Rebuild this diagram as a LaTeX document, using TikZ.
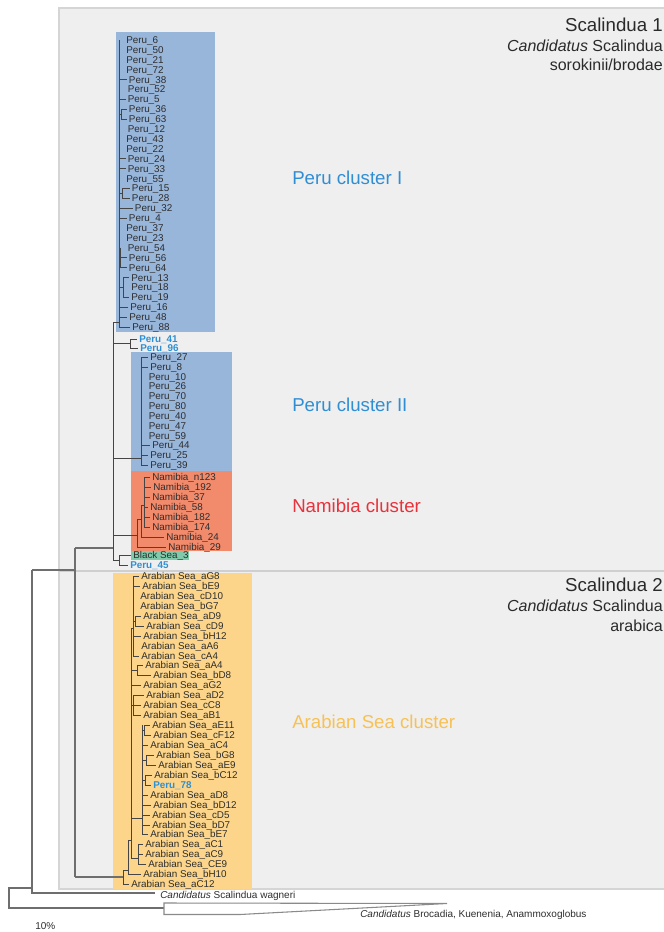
\documentclass[tikz,border=0pt]{standalone}
\usepackage{fontspec}
\setmainfont{Liberation Sans}
\definecolor{leafc}{HTML}{2E2E2E}
\definecolor{treec}{HTML}{454545}
\definecolor{backc}{HTML}{6E6E6E}
\definecolor{bggray}{HTML}{EFEFEF}
\definecolor{bgline}{HTML}{D5D5D5}
\definecolor{sepc}{HTML}{CFCFCF}
\definecolor{peruf}{HTML}{98B5DA}
\definecolor{namf}{HTML}{F28A6C}
\definecolor{bsf}{HTML}{7FCAAA}
\definecolor{arf}{HTML}{FCD58A}
\definecolor{perut}{HTML}{2F8ED3}
\definecolor{peruc}{HTML}{2E8FD3}
\definecolor{namt}{HTML}{E8323C}
\definecolor{art}{HTML}{F7C155}
\definecolor{grpc}{HTML}{2A2A2A}
\definecolor{wedgec}{HTML}{8A8A8A}
\newcommand\lf[5][leaf]{\node[#1] (#2) at (#3,#4) {#5};}
\newcommand\lft[6][leaf]{\node[#1] (#2) at (#3,#4) {#5};\draw[br] (#6,#4) -- ([xshift=-1.2pt]#2.west);}
\begin{document}
\begin{tikzpicture}[x=0.75pt,y=-0.75pt,
  leaf/.style={anchor=west,inner sep=0pt,text height=5.2pt,text depth=0pt,font=\fontsize{7.4}{8}\selectfont,text=leafc},
  bleaf/.style={leaf,text=peruc,font=\fontsize{7.4}{8}\selectfont\bfseries},
  br/.style={draw=treec,line width=0.7pt},
  bb/.style={draw=backc,line width=1pt},
  clab/.style={anchor=west,inner sep=0pt,font=\fontsize{14}{16}\selectfont},
  grp/.style={anchor=east,inner sep=0pt,font=\fontsize{14}{16}\selectfont,text=grpc},
  grps/.style={anchor=east,inner sep=0pt,font=\fontsize{12}{14}\selectfont,text=grpc},
  olab/.style={anchor=west,inner sep=0pt,font=\fontsize{7.5}{9}\selectfont,text=leafc}]
\useasboundingbox (0,0) rectangle (664,932);
\clip (0,0) rectangle (664,932);
\fill[white] (0,0) rectangle (664,932);
% background panels
\draw[fill=bggray,draw=bgline,line width=1.2pt] (59,8) rectangle (700,889);
\draw[sepc,line width=2.2pt] (59,571) -- (700,571);
% cluster boxes
\fill[peruf] (116,32) rectangle (215,332);
\fill[peruf] (131,352) rectangle (232,471);
\fill[namf] (131,471) rectangle (232,551);
\fill[bsf] (131,551) rectangle (189,559.5);
\fill[arf] (113,572.5) rectangle (252,889);
% panel labels
\node[grp] (s1) at (663,25) {Scalindua 1};
\node[grps] (s1a) at (663,46) {\textit{Candidatus} Scalindua};
\node[grps] (s1b) at (663,65) {sorokinii/brodae};
\node[grp] (s2) at (663,585) {Scalindua 2};
\node[grps] (s2a) at (663,606) {\textit{Candidatus} Scalindua};
\node[grps] (s2b) at (663,626) {arabica};
% cluster labels
\node[clab,text=perut] (gI) at (292,178) {Peru cluster I};
\node[clab,text=perut] (gII) at (292,405) {Peru cluster II};
\node[clab,text=namt] (gN) at (292,506) {Namibia cluster};
\node[clab,text=art] (gA) at (292,722) {Arabian Sea cluster};
% backbone
\draw[bb] (75,548) -- (75,877);
\draw[bb] (75,548) -- (113,548);
\draw[bb] (75,877) -- (123,877);
\draw[bb] (32,570) -- (75,570);
\draw[bb] (32,570) -- (32,893) -- (155,893);
\draw[bb] (32,888) -- (9,888) -- (9,908) -- (164,908);
\draw[draw=wedgec,line width=0.8pt] (164,903) -- (447,903.5) -- (240,914.5) -- (164,914.5) -- cycle;
\node[olab] (wag) at (160,896) {\textit{Candidatus} Scalindua wagneri};
\node[olab] (bro) at (360,915) {\textit{Candidatus} Brocadia, Kuenenia, Anammoxoglobus};
\node[olab] (ten) at (35,926) {10\%};
% Scalindua 1 node
\draw[br] (113,322) -- (113,560);
% Peru cluster I
\draw[br] (113,322) -- (119,322);
\draw[br] (119,40) -- (119,327.1);
\draw[br] (121,109.3) -- (121,119.2); \draw[br] (119,114.2) -- (121,114.2);
\draw[br] (122,188.5) -- (122,198.4); \draw[br] (119,193.5) -- (122,193.5);
\draw[br] (120.5,247.9) -- (120.5,267.7);
\draw[br] (123,277.6) -- (123,297.4); \draw[br] (119,287.5) -- (123,287.5);
\lf{p6}{126}{40}{Peru\_6}
\lf{p50}{126}{49.9}{Peru\_50}
\lf{p21}{126}{59.8}{Peru\_21}
\lf{p72}{126}{69.7}{Peru\_72}
\lft{p38}{128.7}{79.6}{Peru\_38}{119}
\lf{p52}{127.7}{89.5}{Peru\_52}
\lft{p5}{127.5}{99.4}{Peru\_5}{119}
\lft{p36}{128.7}{109.3}{Peru\_36}{121}
\lft{p63}{128.7}{119.2}{Peru\_63}{121}
\lf{p12}{127.5}{129.1}{Peru\_12}
\lf{p43}{126}{139}{Peru\_43}
\lf{p22}{126}{148.9}{Peru\_22}
\lft{p24}{127.5}{158.8}{Peru\_24}{119}
\lft{p33}{127.5}{168.7}{Peru\_33}{119}
\lf{p55}{126}{178.6}{Peru\_55}
\lft{p15}{131.7}{188.5}{Peru\_15}{122}
\lft{p28}{131.7}{198.4}{Peru\_28}{122}
\lft{p32}{134.7}{208.3}{Peru\_32}{119}
\lft{p4}{128.7}{218.2}{Peru\_4}{119}
\lf{p37}{126}{228.1}{Peru\_37}
\lf{p23}{126}{238}{Peru\_23}
\lf{p54}{127.5}{247.9}{Peru\_54}
\lft{p56}{128.7}{257.8}{Peru\_56}{120.5}
\lft{p64}{128.7}{267.7}{Peru\_64}{120.5}
\lft{p13}{131}{277.6}{Peru\_13}{123}
\lf{p18}{131}{287.5}{Peru\_18}
\lft{p19}{131}{297.4}{Peru\_19}{123}
\lft{p16}{130}{307.3}{Peru\_16}{119}
\lft{p48}{129}{317.2}{Peru\_48}{119}
\lft{p88}{132}{327.1}{Peru\_88}{119}
% Peru 41/96
\draw[br] (113,343.5) -- (130,343.5);
\draw[br] (130,339) -- (130,348);
\lft[bleaf]{p41}{139}{339}{Peru\_41}{130}
\lft[bleaf]{p96}{140}{348}{Peru\_96}{130}
% Peru cluster II
\draw[br] (141,357) -- (141,465);
\draw[br] (113,458) -- (141,458);
\lft{q27}{150}{357}{Peru\_27}{141}
\lft{q8}{150}{367}{Peru\_8}{141}
\lf{q10}{148.5}{377}{Peru\_10}
\lf{q26}{148.5}{386}{Peru\_26}
\lf{q70}{148.5}{396}{Peru\_70}
\lf{q80}{148.5}{406}{Peru\_80}
\lf{q40}{148.5}{416}{Peru\_40}
\lf{q47}{148.5}{426}{Peru\_47}
\lf{q59}{148.5}{436}{Peru\_59}
\lft{q44}{152}{445}{Peru\_44}{141}
\lft{q25}{150}{455}{Peru\_25}{141}
\lft{q39}{150}{465}{Peru\_39}{141}
% Namibia
\draw[br] (144,477) -- (144,527);
\draw[br] (141,505) -- (144,505);
\draw[br] (141,505) -- (141,537);
\draw[br] (137,519) -- (141,519);
\draw[br] (137,519) -- (137,547);
\draw[br] (113,535) -- (137,535);
\lft{n123}{152}{477}{Namibia\_n123}{144}
\lft{n192}{153}{487}{Namibia\_192}{144}
\lft{n37}{152}{497}{Namibia\_37}{144}
\lft{n58}{150}{507}{Namibia\_58}{144}
\lft{n182}{152}{517}{Namibia\_182}{144}
\lft{n174}{152}{527}{Namibia\_174}{144}
\lft{n24}{166}{537}{Namibia\_24}{141}
\lft{n29}{168}{547}{Namibia\_29}{137}
% Black Sea / Peru 45
\draw[br] (113,560) -- (119,560);
\draw[br] (119,555) -- (119,565);
\lft{bs3}{133}{555}{Black Sea\_3}{119}
\lft[bleaf]{p45}{130}{565}{Peru\_45}{119}
% Arabian Sea cluster
\draw[br] (123,870) -- (123,884);
\draw[br] (123,870) -- (128,870);
\draw[br] (128,840) -- (128,874);
\draw[br] (128,840) -- (131,840);
\draw[br] (131,628) -- (131,858);
\draw[br] (133,576) -- (133,656); \draw[br] (131,628) -- (133,628);
\draw[br] (135,616) -- (135,626); \draw[br] (133,621) -- (135,621);
\draw[br] (137,665) -- (137,675); \draw[br] (131,670) -- (137,670);
\draw[br] (133,695) -- (133,715); \draw[br] (131,705) -- (133,705);
\draw[br] (142,725) -- (142,834); \draw[br] (131,818) -- (142,818);
\draw[br] (144,725) -- (144,735); \draw[br] (142,730) -- (144,730);
\draw[br] (146,755) -- (146,765); \draw[br] (142,760) -- (146,760);
\draw[br] (145,775) -- (145,785); \draw[br] (142,780) -- (145,780);
\draw[br] (138,844) -- (138,864); \draw[br] (131,858) -- (138,858);
\lft{aG8}{141}{576}{Arabian Sea\_aG8}{133}
\lft{bE9}{142}{586}{Arabian Sea\_bE9}{133}
\lf{cD10}{140}{596}{Arabian Sea\_cD10}
\lf{bG7}{140}{606}{Arabian Sea\_bG7}
\lft{aD9}{143}{616}{Arabian Sea\_aD9}{135}
\lft{cD9}{146}{626}{Arabian Sea\_cD9}{135}
\lft{bH12}{143}{636}{Arabian Sea\_bH12}{133}
\lf{aA6}{141}{646}{Arabian Sea\_aA6}
\lft{cA4}{141}{656}{Arabian Sea\_cA4}{133}
\lft{aA4}{145}{665}{Arabian Sea\_aA4}{137}
\lft{bD8}{153}{675}{Arabian Sea\_bD8}{137}
\lft{aG2}{143}{685}{Arabian Sea\_aG2}{131}
\lft{aD2}{146}{695}{Arabian Sea\_aD2}{133}
\lft{cC8}{143}{705}{Arabian Sea\_cC8}{133}
\lft{aB1}{143}{715}{Arabian Sea\_aB1}{133}
\lft{aE11}{152}{725}{Arabian Sea\_aE11}{144}
\lft{cF12}{153}{735}{Arabian Sea\_cF12}{144}
\lft{aC4}{150}{745}{Arabian Sea\_aC4}{142}
\lft{bG8}{156}{755}{Arabian Sea\_bG8}{146}
\lft{aE9}{158}{765}{Arabian Sea\_aE9}{146}
\lft{bC12}{154}{775}{Arabian Sea\_bC12}{145}
\lft[bleaf]{p78}{153}{785}{Peru\_78}{145}
\lft{aD8}{150}{795}{Arabian Sea\_aD8}{142}
\lft{bD12}{153}{805}{Arabian Sea\_bD12}{142}
\lft{cD5}{152}{815}{Arabian Sea\_cD5}{142}
\lft{bD7}{152}{825}{Arabian Sea\_bD7}{142}
\lft{bE7}{150}{834}{Arabian Sea\_bE7}{142}
\lft{aC1}{145}{844}{Arabian Sea\_aC1}{138}
\lft{aC9}{145}{854}{Arabian Sea\_aC9}{138}
\lft{CE9}{148}{864}{Arabian Sea\_CE9}{138}
\lft{bH10}{143}{874}{Arabian Sea\_bH10}{128}
\lft{aC12}{131}{884}{Arabian Sea\_aC12}{123}
\end{tikzpicture}
\end{document}
